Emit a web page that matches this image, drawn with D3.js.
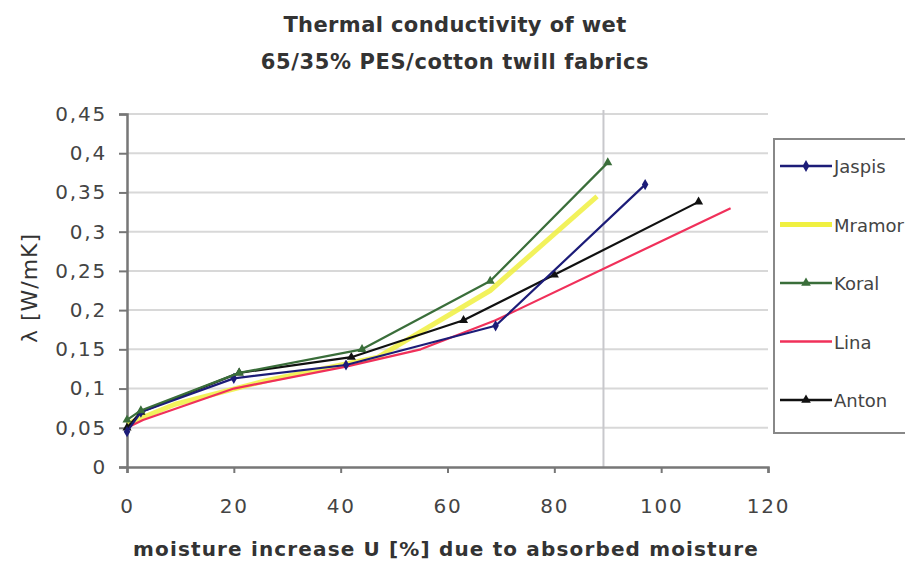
<!DOCTYPE html>
<html><head><meta charset="utf-8">
<script src="https://cdn.jsdelivr.net/npm/d3@7"></script>
<style>body{margin:0;background:#fff}svg{display:block}</style>
</head><body>
<svg id="c" width="905" height="564"></svg>
<script>
const seriesNames = ["Jaspis","Mramor","Koral","Lina","Anton"];
const jaspis = [[0,0.045],[2.6,0.07],[20,0.113],[41,0.13],[69,0.18],[97,0.36]];
const mramor = [[0,0.055],[9,0.08],[26,0.11],[47,0.14],[68,0.225],[88,0.345]];
const koral  = [[0,0.06],[2.6,0.072],[21,0.12],[44,0.15],[68,0.237],[90,0.388]];
const lina   = [[0,0.05],[3,0.06],[20,0.1],[41,0.128],[55,0.15],[69,0.187],[113,0.33]];
const anton  = [[0,0.05],[2.6,0.07],[21,0.12],[42,0.14],[63,0.187],[80,0.245],[107,0.338]];
const xTicks = [0,20,40,60,80,100,120];
const yTicks = [0,0.05,0.1,0.15,0.2,0.25,0.3,0.35,0.4,0.45];
const yTickLabels = ["0","0,05","0,1","0,15","0,2","0,25","0,3","0,35","0,4","0,45"];
const refLineX = 89.2;

const colors = {Jaspis:"#1c1c78",Mramor:"#f0f040",Koral:"#3a6e3a",Lina:"#f0305a",Anton:"#111111"};
const widths = {Jaspis:2.2,Mramor:5,Koral:2.2,Lina:2.2,Anton:2.2};
const markers = {Jaspis:d3.symbolDiamond,Mramor:null,Koral:d3.symbolTriangle,Lina:null,Anton:d3.symbolTriangle};
const data = {Jaspis:jaspis,Mramor:mramor,Koral:koral,Lina:lina,Anton:anton};

const svg = d3.select("#c");
const font = "'DejaVu Sans', Verdana, sans-serif";
const x = d3.scaleLinear().domain([0,120]).range([127,768]);
const y = d3.scaleLinear().domain([0,0.45]).range([467,114]);

// gridlines
svg.append("g").selectAll("line").data(yTicks.slice(1)).join("line")
  .attr("x1",127).attr("x2",768).attr("y1",d=>y(d)).attr("y2",d=>y(d))
  .attr("stroke","#d8d8d8").attr("stroke-width",2);
// vertical reference line
svg.append("line").attr("x1",x(refLineX)).attr("x2",x(refLineX)).attr("y1",y(0.45)-4).attr("y2",y(0))
  .attr("stroke","#c8c8cc").attr("stroke-width",2);

// axes
const yAxis = d3.axisLeft(y).tickValues(yTicks).tickFormat((d,i)=>yTickLabels[i]).tickSize(8).tickPadding(12);
const gy = svg.append("g").attr("transform","translate(127,0)").call(yAxis);
const xAxis = d3.axisBottom(x).tickValues(xTicks).tickSize(6).tickPadding(26);
const gx = svg.append("g").attr("transform","translate(0,467)").call(xAxis);
[gx,gy].forEach(g=>{
  g.select(".domain").attr("stroke","#777").attr("stroke-width",2.5);
  g.selectAll(".tick line").attr("stroke","#777").attr("stroke-width",2);
  g.selectAll("text").attr("font-family",font).attr("font-size",20).attr("fill","#444")
    .attr("letter-spacing",1.8);
});

// lines
const line = d3.line().x(d=>x(d[0])).y(d=>y(d[1]));
const order = ["Mramor","Lina","Anton","Jaspis","Koral"];
order.forEach(n=>{
  svg.append("path").datum(data[n]).attr("d",line).attr("fill","none")
    .attr("stroke",colors[n]).attr("stroke-width",widths[n]).attr("stroke-linejoin","round")
    .attr("opacity", n==="Mramor"?0.85:1);
  if(markers[n]){
    svg.append("g").selectAll("path").data(data[n]).join("path")
      .attr("transform",d=>`translate(${x(d[0])},${y(d[1])})`)
      .attr("d",d3.symbol().type(markers[n]).size(36)).attr("fill",colors[n]);
  }
});

// title
const tstyle = s=>s.attr("text-anchor","middle").attr("font-family",font).attr("font-weight","bold")
  .attr("font-size",21).attr("fill","#333");
svg.append("text").attr("x",455).attr("y",32).call(tstyle).attr("letter-spacing",0.4).text("Thermal conductivity of wet");
svg.append("text").attr("x",455).attr("y",69).call(tstyle).attr("letter-spacing",0.6).text("65/35% PES/cotton twill fabrics");
// axis titles
svg.append("text").attr("x",446).attr("y",556).call(tstyle).attr("font-size",20).attr("letter-spacing",1.15)
  .text("moisture increase U [%] due to absorbed moisture");
svg.append("text").attr("transform","translate(37,288) rotate(-90)").attr("text-anchor","middle")
  .attr("font-family",font).attr("font-size",22).attr("fill","#333").attr("letter-spacing",1)
  .text("λ [W/mK]");

// legend
const lg = svg.append("g");
lg.append("rect").attr("x",774).attr("y",139).attr("width",140).attr("height",294)
  .attr("fill","#fff").attr("stroke","#888").attr("stroke-width",2);
const legY = d3.scalePoint().domain(seriesNames).range([166,400]);
seriesNames.forEach(n=>{
  const yy = legY(n);
  lg.append("line").attr("x1",780).attr("x2",832).attr("y1",yy).attr("y2",yy)
    .attr("stroke",colors[n]).attr("stroke-width",n==="Mramor"?5:2.5);
  if(markers[n]) lg.append("path").attr("transform",`translate(806,${yy})`)
    .attr("d",d3.symbol().type(markers[n]).size(40)).attr("fill",colors[n]);
  lg.append("text").attr("x",834).attr("y",yy+7).attr("font-family",font).attr("font-size",18)
    .attr("fill","#444").text(n);
});
</script>
</body></html>
